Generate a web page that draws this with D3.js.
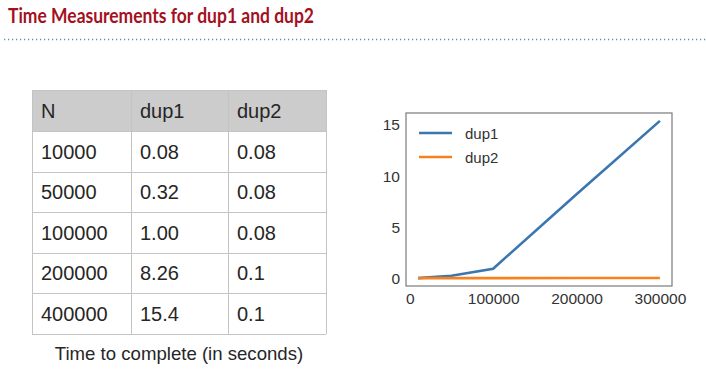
<!DOCTYPE html>
<html>
<head>
<meta charset="utf-8">
<script src="https://cdn.jsdelivr.net/npm/d3@7"></script>
<style>
  body { margin: 0; background: #fff; }
  svg { display: block; }
</style>
</head>
<body>
<svg id="chart" width="706" height="376"></svg>
<script>
// Table values
var tableHeader = ["N", "dup1", "dup2"];
var tableN = ["10000", "50000", "100000", "200000", "400000"];
var dup1Text = ["0.08", "0.32", "1.00", "8.26", "15.4"];
var dup2Text = ["0.08", "0.08", "0.08", "0.1", "0.1"];

// Plot values (the plot's x runs to 300000)
var plotN = [10000, 50000, 100000, 200000, 300000];
var dup1Times = [0.08, 0.32, 1.00, 8.26, 15.4];
var dup2Times = [0.08, 0.08, 0.08, 0.1, 0.1];
var xTicks = [0, 100000, 200000, 300000];
var yTicks = [0, 5, 10, 15];

var svg = d3.select("#chart");

// Title
svg.append("text")
    .attr("x", 8)
    .attr("y", 23)
    .attr("font-family", "Lato, 'Open Sans', sans-serif")
    .attr("font-weight", "bold")
    .attr("font-size", 21)
    .attr("fill", "#a3111f")
    .attr("textLength", 306)
    .attr("lengthAdjust", "spacingAndGlyphs")
    .text("Time Measurements for dup1 and dup2");

// Dotted rule under the title
svg.append("line")
    .attr("x1", 4).attr("x2", 706)
    .attr("y1", 39.5).attr("y2", 39.5)
    .attr("stroke", "#5c8ea3")
    .attr("stroke-width", 1.5)
    .attr("stroke-dasharray", "1.2,2.8");

// ---- Table ----
var colX = [32, 131, 228, 326];
var rowTop = 90, headerH = 41, rowH = 40.6;

var rows = tableN.map(function(n, i) { return [n, dup1Text[i], dup2Text[i]]; });
var allRows = [tableHeader].concat(rows);

var table = svg.append("g").attr("class", "table");

table.append("rect")
    .attr("x", colX[0]).attr("y", rowTop)
    .attr("width", colX[3] - colX[0]).attr("height", headerH)
    .attr("fill", "#cccccc");

var rowG = table.selectAll(".row")
    .data(allRows)
  .enter().append("g")
    .attr("class", "row")
    .attr("transform", function(d, i) {
      return "translate(0," + (i == 0 ? rowTop : rowTop + headerH + (i - 1) * rowH) + ")";
    });

rowG.selectAll("text")
    .data(function(d) { return d; })
  .enter().append("text")
    .attr("x", function(d, j) { return colX[j] + 9; })
    .attr("y", 27.5)
    .attr("font-family", "'Liberation Sans', Arial, sans-serif")
    .attr("font-size", 20)
    .attr("fill", "#262626")
    .text(function(d) { return d; });

// grid lines
var tableBottom = rowTop + headerH + rows.length * rowH;
var hLines = [rowTop].concat(d3.range(rows.length + 1).map(function(i) { return rowTop + headerH + i * rowH; }));
table.selectAll(".hline")
    .data(hLines)
  .enter().append("line")
    .attr("x1", colX[0]).attr("x2", colX[3])
    .attr("y1", function(d) { return Math.round(d) + 0.5; })
    .attr("y2", function(d) { return Math.round(d) + 0.5; })
    .attr("stroke", "#c4c4c4");
table.selectAll(".vline")
    .data(colX)
  .enter().append("line")
    .attr("x1", function(d) { return d + 0.5; })
    .attr("x2", function(d) { return d + 0.5; })
    .attr("y1", rowTop).attr("y2", tableBottom)
    .attr("stroke", "#c4c4c4");

// caption
svg.append("text")
    .attr("x", 179)
    .attr("y", 360)
    .attr("text-anchor", "middle")
    .attr("font-family", "'Liberation Sans', Arial, sans-serif")
    .attr("font-size", 18.6)
    .attr("fill", "#262626")
    .text("Time to complete (in seconds)");

// ---- Line plot ----
var plot = { left: 406, top: 113, right: 672, bottom: 286 };

var xPad = (d3.max(plotN) - d3.min(plotN)) * 0.05;
var x = d3.scaleLinear()
    .domain([d3.min(plotN) - xPad, d3.max(plotN) + xPad])
    .range([plot.left, plot.right]);

var yMin = d3.min(dup1Times.concat(dup2Times)), yMax = d3.max(dup1Times.concat(dup2Times));
var yPad = (yMax - yMin) * 0.05;
var y = d3.scaleLinear()
    .domain([yMin - yPad, yMax + yPad])
    .range([plot.bottom, plot.top]);

var series = [
  { name: "dup1", values: dup1Times, color: "#3a76af" },
  { name: "dup2", values: dup2Times, color: "#f5821f" }
];

var line = d3.line()
    .x(function(d, i) { return x(plotN[i]); })
    .y(function(d) { return y(d); });

svg.selectAll(".series")
    .data(series)
  .enter().append("path")
    .attr("class", "series")
    .attr("d", function(d) { return line(d.values); })
    .attr("fill", "none")
    .attr("stroke", function(d) { return d.color; })
    .attr("stroke-width", 2.6);

// frame
svg.append("rect")
    .attr("x", plot.left).attr("y", plot.top)
    .attr("width", plot.right - plot.left).attr("height", plot.bottom - plot.top)
    .attr("fill", "none")
    .attr("stroke", "#7a7a7a")
    .attr("stroke-width", 1.2);

// axes (labels only, no tick marks)
var xAxis = svg.append("g")
    .attr("transform", "translate(0," + plot.bottom + ")")
    .call(d3.axisBottom(x).tickValues(xTicks).tickSize(0).tickPadding(7).tickFormat(d3.format("d")));
var yAxis = svg.append("g")
    .attr("transform", "translate(" + plot.left + ",0)")
    .call(d3.axisLeft(y).tickValues(yTicks).tickSize(0).tickPadding(6).tickFormat(d3.format("d")));

[xAxis, yAxis].forEach(function(ax) {
  ax.select(".domain").remove();
  ax.selectAll("text")
      .attr("font-family", "'Liberation Sans', Arial, sans-serif")
      .attr("font-size", 15.5)
      .attr("fill", "#333");
});

// legend
var legend = svg.selectAll(".legend")
    .data(series)
  .enter().append("g")
    .attr("class", "legend")
    .attr("transform", function(d, i) { return "translate(419," + (133 + i * 24) + ")"; });
legend.append("line")
    .attr("x1", 0).attr("x2", 33)
    .attr("stroke", function(d) { return d.color; })
    .attr("stroke-width", 2.6);
legend.append("text")
    .attr("x", 46)
    .attr("y", 5.5)
    .attr("font-family", "'Liberation Sans', Arial, sans-serif")
    .attr("font-size", 15)
    .attr("fill", "#333")
    .text(function(d) { return d.name; });
</script>
</body>
</html>
